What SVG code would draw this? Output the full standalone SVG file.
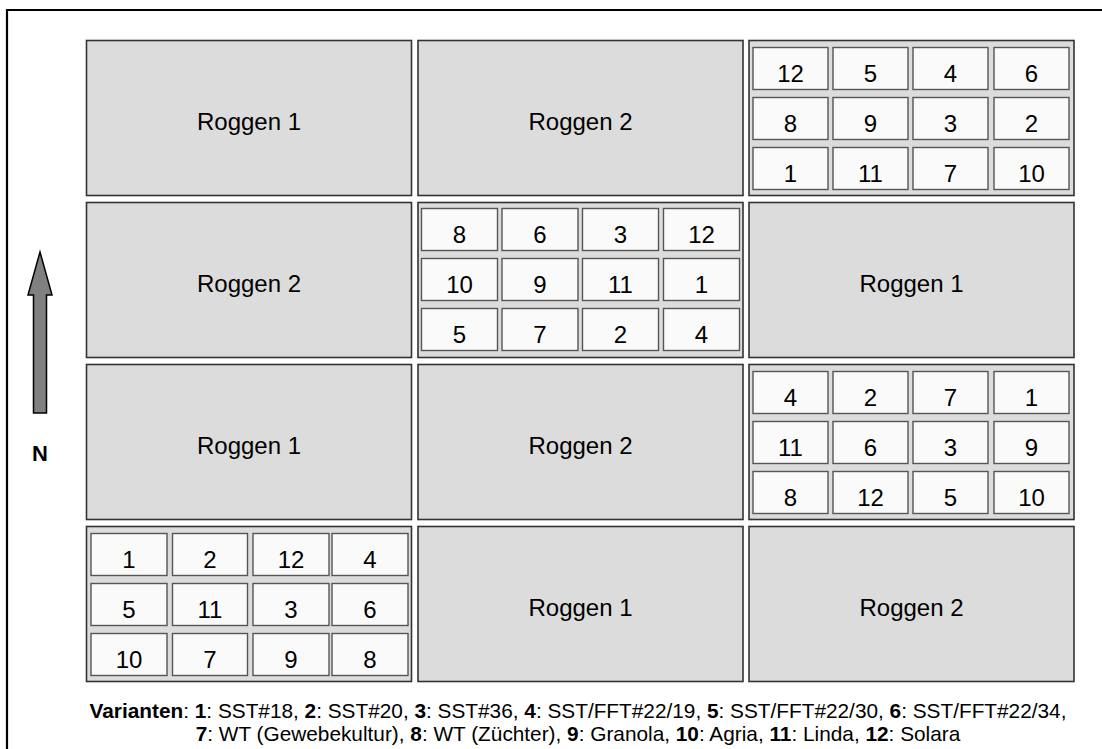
<svg xmlns="http://www.w3.org/2000/svg" width="1102" height="749" viewBox="0 0 1102 749">
<style>
.plot{fill:#dcdcdc;stroke:#333;stroke-width:1.6}
.cell{fill:#fafafa;stroke:#555;stroke-width:1.4}
.t{font-family:"Liberation Sans",Arial,sans-serif;font-size:24px;fill:#000;text-anchor:middle}
.lg{font-family:"Liberation Sans",Arial,sans-serif;font-size:20.8px;fill:#000;text-anchor:middle}
.b{font-weight:bold}
</style>
<rect width="1102" height="749" fill="#fff"/>
<path d="M7,749 V10 H1102" fill="none" stroke="#000" stroke-width="2.2"/>

<g id="r1c1"><rect class="plot" x="86.5" y="40.5" width="325" height="155"/><text class="t" x="249" y="130">Roggen 1</text></g>
<g id="r1c2"><rect class="plot" x="418" y="40.5" width="325" height="155"/><text class="t" x="580.5" y="130">Roggen 2</text></g>
<g id="r1c3"><rect class="plot" x="749" y="40.5" width="325" height="155"/>
<rect class="cell" x="753" y="47.5" width="75" height="42"/><text class="t" x="790.5" y="82">12</text>
<rect class="cell" x="833" y="47.5" width="75" height="42"/><text class="t" x="870.5" y="82">5</text>
<rect class="cell" x="913" y="47.5" width="75" height="42"/><text class="t" x="950.5" y="82">4</text>
<rect class="cell" x="994" y="47.5" width="75" height="42"/><text class="t" x="1031.5" y="82">6</text>
<rect class="cell" x="753" y="97.5" width="75" height="42"/><text class="t" x="790.5" y="132">8</text>
<rect class="cell" x="833" y="97.5" width="75" height="42"/><text class="t" x="870.5" y="132">9</text>
<rect class="cell" x="913" y="97.5" width="75" height="42"/><text class="t" x="950.5" y="132">3</text>
<rect class="cell" x="994" y="97.5" width="75" height="42"/><text class="t" x="1031.5" y="132">2</text>
<rect class="cell" x="753" y="147.5" width="75" height="42"/><text class="t" x="790.5" y="182">1</text>
<rect class="cell" x="833" y="147.5" width="75" height="42"/><text class="t" x="870.5" y="182">11</text>
<rect class="cell" x="913" y="147.5" width="75" height="42"/><text class="t" x="950.5" y="182">7</text>
<rect class="cell" x="994" y="147.5" width="75" height="42"/><text class="t" x="1031.5" y="182">10</text>
</g>

<g id="r2c1"><rect class="plot" x="86.5" y="202.5" width="325" height="155"/><text class="t" x="249" y="292">Roggen 2</text></g>
<g id="r2c2"><rect class="plot" x="418" y="202.5" width="325" height="155"/>
<rect class="cell" x="421.5" y="208.5" width="76" height="42"/><text class="t" x="459.5" y="243">8</text>
<rect class="cell" x="502" y="208.5" width="76" height="42"/><text class="t" x="540" y="243">6</text>
<rect class="cell" x="582.5" y="208.5" width="76" height="42"/><text class="t" x="620.5" y="243">3</text>
<rect class="cell" x="663.5" y="208.5" width="76" height="42"/><text class="t" x="701.5" y="243">12</text>
<rect class="cell" x="421.5" y="258.5" width="76" height="42"/><text class="t" x="459.5" y="293">10</text>
<rect class="cell" x="502" y="258.5" width="76" height="42"/><text class="t" x="540" y="293">9</text>
<rect class="cell" x="582.5" y="258.5" width="76" height="42"/><text class="t" x="620.5" y="293">11</text>
<rect class="cell" x="663.5" y="258.5" width="76" height="42"/><text class="t" x="701.5" y="293">1</text>
<rect class="cell" x="421.5" y="308.5" width="76" height="42"/><text class="t" x="459.5" y="343">5</text>
<rect class="cell" x="502" y="308.5" width="76" height="42"/><text class="t" x="540" y="343">7</text>
<rect class="cell" x="582.5" y="308.5" width="76" height="42"/><text class="t" x="620.5" y="343">2</text>
<rect class="cell" x="663.5" y="308.5" width="76" height="42"/><text class="t" x="701.5" y="343">4</text>
</g>
<g id="r2c3"><rect class="plot" x="749" y="202.5" width="325" height="155"/><text class="t" x="911.5" y="292">Roggen 1</text></g>

<g id="r3c1"><rect class="plot" x="86.5" y="364.5" width="325" height="155"/><text class="t" x="249" y="454">Roggen 1</text></g>
<g id="r3c2"><rect class="plot" x="418" y="364.5" width="325" height="155"/><text class="t" x="580.5" y="454">Roggen 2</text></g>
<g id="r3c3"><rect class="plot" x="749" y="364.5" width="325" height="155"/>
<rect class="cell" x="753" y="371.5" width="75" height="42"/><text class="t" x="790.5" y="406">4</text>
<rect class="cell" x="833" y="371.5" width="75" height="42"/><text class="t" x="870.5" y="406">2</text>
<rect class="cell" x="913" y="371.5" width="75" height="42"/><text class="t" x="950.5" y="406">7</text>
<rect class="cell" x="994" y="371.5" width="75" height="42"/><text class="t" x="1031.5" y="406">1</text>
<rect class="cell" x="753" y="421.5" width="75" height="42"/><text class="t" x="790.5" y="456">11</text>
<rect class="cell" x="833" y="421.5" width="75" height="42"/><text class="t" x="870.5" y="456">6</text>
<rect class="cell" x="913" y="421.5" width="75" height="42"/><text class="t" x="950.5" y="456">3</text>
<rect class="cell" x="994" y="421.5" width="75" height="42"/><text class="t" x="1031.5" y="456">9</text>
<rect class="cell" x="753" y="471.5" width="75" height="42"/><text class="t" x="790.5" y="506">8</text>
<rect class="cell" x="833" y="471.5" width="75" height="42"/><text class="t" x="870.5" y="506">12</text>
<rect class="cell" x="913" y="471.5" width="75" height="42"/><text class="t" x="950.5" y="506">5</text>
<rect class="cell" x="994" y="471.5" width="75" height="42"/><text class="t" x="1031.5" y="506">10</text>
</g>

<g id="r4c1"><rect class="plot" x="86.5" y="526.5" width="325" height="155"/>
<rect class="cell" x="91" y="533.5" width="76" height="42"/><text class="t" x="129" y="568">1</text>
<rect class="cell" x="172.5" y="533.5" width="75" height="42"/><text class="t" x="210" y="568">2</text>
<rect class="cell" x="253" y="533.5" width="76" height="42"/><text class="t" x="291" y="568">12</text>
<rect class="cell" x="332" y="533.5" width="76" height="42"/><text class="t" x="370" y="568">4</text>
<rect class="cell" x="91" y="583.5" width="76" height="42"/><text class="t" x="129" y="618">5</text>
<rect class="cell" x="172.5" y="583.5" width="75" height="42"/><text class="t" x="210" y="618">11</text>
<rect class="cell" x="253" y="583.5" width="76" height="42"/><text class="t" x="291" y="618">3</text>
<rect class="cell" x="332" y="583.5" width="76" height="42"/><text class="t" x="370" y="618">6</text>
<rect class="cell" x="91" y="633.5" width="76" height="42"/><text class="t" x="129" y="668">10</text>
<rect class="cell" x="172.5" y="633.5" width="75" height="42"/><text class="t" x="210" y="668">7</text>
<rect class="cell" x="253" y="633.5" width="76" height="42"/><text class="t" x="291" y="668">9</text>
<rect class="cell" x="332" y="633.5" width="76" height="42"/><text class="t" x="370" y="668">8</text>
</g>
<g id="r4c2"><rect class="plot" x="418" y="526.5" width="325" height="155"/><text class="t" x="580.5" y="616">Roggen 1</text></g>
<g id="r4c3"><rect class="plot" x="749" y="526.5" width="325" height="155"/><text class="t" x="911.5" y="616">Roggen 2</text></g>

<g id="north">
<path d="M40,252 L52,295 L46.5,295 L46.5,413 L33.5,413 L33.5,295 L28,295 Z" fill="#808080" stroke="#000" stroke-width="1.5" stroke-linejoin="miter"/>
<text class="t b" x="40" y="461" style="font-size:22px">N</text>
</g>

<g id="legend">
<text class="lg" x="578" y="718"><tspan class="b">Varianten</tspan>: <tspan class="b">1</tspan>: SST#18, <tspan class="b">2</tspan>: SST#20, <tspan class="b">3</tspan>: SST#36, <tspan class="b">4</tspan>: SST/FFT#22/19, <tspan class="b">5</tspan>: SST/FFT#22/30, <tspan class="b">6</tspan>: SST/FFT#22/34,</text>
<text class="lg" x="578" y="741"><tspan class="b">7</tspan>: WT (Gewebekultur), <tspan class="b">8</tspan>: WT (Züchter), <tspan class="b">9</tspan>: Granola, <tspan class="b">10</tspan>: Agria, <tspan class="b">11</tspan>: Linda, <tspan class="b">12</tspan>: Solara</text>
</g>
</svg>
